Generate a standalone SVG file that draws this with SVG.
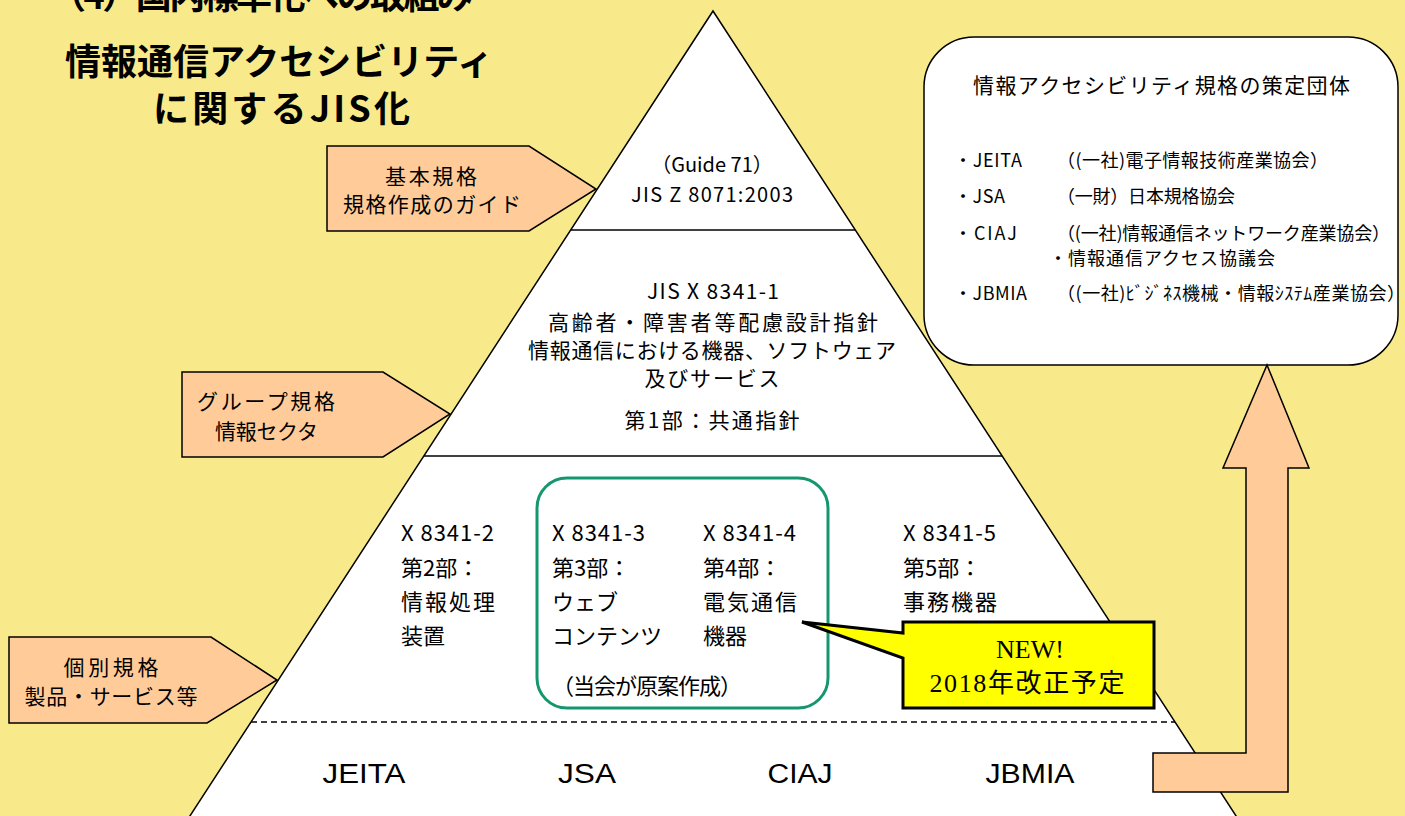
<svg xmlns="http://www.w3.org/2000/svg" width="1405" height="816" viewBox="0 0 1405 816">
<defs>
<style>
.jp{font-family:"Noto Sans CJK JP","Liberation Sans",sans-serif;fill:#000}
.lat{font-family:"Liberation Sans","Noto Sans CJK JP",sans-serif;fill:#000}
.ser{font-family:"Liberation Serif","Noto Sans CJK JP",serif;fill:#000}
.peach{fill:#FFCC99;stroke:#000;stroke-width:1.5;stroke-linejoin:miter}
.ln{stroke:#000;stroke-width:1.5;fill:none}
.f22{font-size:22px}
.f21{font-size:21px}
.f20{font-size:20px}
.mid{text-anchor:middle}
</style>
</defs>
<rect id="background" width="1405" height="816" fill="#F8EA8A"/>

<g id="title" class="jp" font-weight="bold" font-size="36">
<text x="50" y="9" textLength="423">（4）国内標準化への取組み</text>
<text x="65" y="75" textLength="428">情報通信アクセシビリティ</text>
<text x="153" y="122" textLength="257">に関するJIS化</text>
</g>

<g id="pyramid">
<polygon points="713,11 1240,822 186,822" fill="#fff" stroke="#000" stroke-width="1.5"/>
<line class="ln" x1="571" y1="230" x2="855" y2="230"/>
<line class="ln" x1="424" y1="456" x2="1002" y2="456"/>
<line class="ln" x1="251" y1="722" x2="1175" y2="722" stroke-dasharray="6,4"/>
</g>

<g id="top-level" class="jp f20 mid">
<text x="712" y="172">（Guide 71）</text>
<text x="712" y="202" textLength="162">JIS Z 8071:2003</text>
</g>

<g id="group-level" class="jp f21 mid">
<text x="713" y="299" textLength="132">JIS X 8341-1</text>
<text x="713" y="330" textLength="330">高齢者・障害者等配慮設計指針</text>
<text x="712" y="358" textLength="368">情報通信における機器、ソフトウェア</text>
<text x="712" y="386" textLength="135">及びサービス</text>
<text x="712" y="428" textLength="175">第1部：共通指針</text>
</g>

<g id="part2" class="jp f22">
<text x="401" y="541" textLength="93">X 8341-2</text>
<text x="401" y="576">第2部：</text>
<text x="401" y="610" textLength="94">情報処理</text>
<text x="401" y="644">装置</text>
</g>

<g id="jsa-box">
<rect x="537" y="478" width="291" height="230" rx="30" fill="none" stroke="#14976F" stroke-width="3"/>
</g>

<g id="part3" class="jp f22">
<text x="552" y="541" textLength="93">X 8341-3</text>
<text x="552" y="576">第3部：</text>
<text x="552" y="610">ウェブ</text>
<text x="552" y="644">コンテンツ</text>
<text x="552" y="694" textLength="190">（当会が原案作成）</text>
</g>

<g id="part4" class="jp f22">
<text x="703" y="541" textLength="93">X 8341-4</text>
<text x="703" y="576">第4部：</text>
<text x="703" y="610" textLength="94">電気通信</text>
<text x="703" y="644">機器</text>
</g>

<g id="part5" class="jp f22">
<text x="903" y="541" textLength="93">X 8341-5</text>
<text x="903" y="576">第5部：</text>
<text x="903" y="610" textLength="94">事務機器</text>
</g>

<g id="orgs" class="lat mid" font-size="27">
<text x="364" y="783" textLength="83" lengthAdjust="spacingAndGlyphs">JEITA</text>
<text x="587" y="783" textLength="58" lengthAdjust="spacingAndGlyphs">JSA</text>
<text x="800" y="783" textLength="65" lengthAdjust="spacingAndGlyphs">CIAJ</text>
<text x="1030" y="783" textLength="89" lengthAdjust="spacingAndGlyphs">JBMIA</text>
</g>

<g id="label-basic">
<polygon class="peach" points="327,146 529,146 596,189 529,231 327,231"/>
<text class="jp f21 mid" x="431" y="184" textLength="92">基本規格</text>
<text class="jp f21 mid" x="432" y="212" textLength="178">規格作成のガイド</text>
</g>

<g id="label-group">
<polygon class="peach" points="182,372 383,372 450,414 383,457 182,457"/>
<text class="jp f21" x="197" y="409" textLength="138">グループ規格</text>
<text class="jp f21" x="215" y="439" textLength="103">情報セクタ</text>
</g>

<g id="label-individual">
<polygon class="peach" points="9,637 211,637 277,680 207,723 9,723"/>
<text class="jp f21 mid" x="111" y="675" textLength="95">個別規格</text>
<text class="jp f21 mid" x="111" y="704" textLength="173">製品・サービス等</text>
</g>

<g id="new-callout">
<path d="M903,622 H1154 V708 H903 V658 L802,622 L903,633 Z" fill="#FFFF00" stroke="#000" stroke-width="3" stroke-linejoin="miter"/>
<text class="ser mid" x="1030" y="658" font-size="26">NEW!</text>
<text class="ser mid" x="1027" y="692" font-size="26" textLength="195">2018年改正予定</text>
</g>

<g id="bodies-box">
<rect x="924" y="37" width="474" height="328" rx="50" fill="#fff" stroke="#000" stroke-width="1.5"/>
<text class="jp" x="973" y="93" font-size="21" textLength="377">情報アクセシビリティ規格の策定団体</text>
<g class="jp" font-size="18">
<text x="954" y="167" textLength="68">・JEITA</text>
<text x="1057" y="167" textLength="271">（(一社)電子情報技術産業協会）</text>
<text x="954" y="203" textLength="51">・JSA</text>
<text x="1057" y="203" textLength="178">（一財）日本規格協会</text>
<text x="954" y="240" textLength="63">・CIAJ</text>
<text x="1057" y="240" textLength="333">（(一社)情報通信ネットワーク産業協会）</text>
<text x="1049" y="265" textLength="226">・情報通信アクセス協議会</text>
<text x="954" y="300" textLength="73">・JBMIA</text>
<text x="1057" y="300" textLength="348">（(一社)ﾋﾞｼﾞﾈｽ機械・情報ｼｽﾃﾑ産業協会）</text>
</g>
</g>

<g id="connectors">
<polygon class="peach" points="1267,365 1309,468 1288,468 1288,792 1153,792 1153,753 1246,753 1246,468 1223,468"/>
</g>
</svg>
